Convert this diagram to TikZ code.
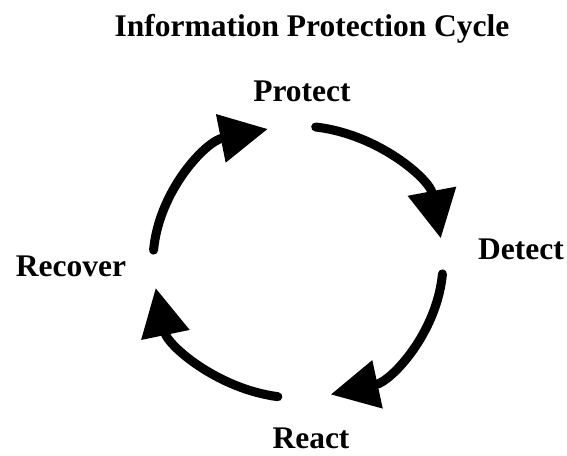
\documentclass[tikz,border=0pt]{standalone}
\usepackage{fontspec}
\setmainfont{Liberation Serif}
\usetikzlibrary{arrows.meta,calc}

\tikzset{
    stage/.style={font=\fontsize{31.5}{36}\selectfont\bfseries, anchor=base, inner sep=0pt},
    cyclearrow/.style={line width=9pt, line cap=round, -{Triangle[length=48pt,width=47pt]}}
}

\begin{document}
\begin{tikzpicture}[x=1pt,y=1pt]
    \useasboundingbox (0,0) rectangle (567,455);

    % Title
    \node[stage] (title) at (312,418) {Information Protection Cycle};

    % Stages
    \node[stage] (protect) at (302,353) {Protect};
    \node[stage] (detect) at (521,195) {Detect};
    \node[stage] (react) at (311,7) {React};
    \node[stage] (recover) at (71,178) {Recover};

    % Cycle arrows
    \coordinate (hub) at (298,193);
    \draw[cyclearrow] ($(hub)+(83:145 and 136)$) arc[start angle=83, end angle=10, x radius=145, y radius=136];
    \draw[cyclearrow] ($(hub)+(-5:145 and 136)$) arc[start angle=-5, end angle=-77, x radius=145, y radius=136];
    \draw[cyclearrow] ($(hub)+(-98:145 and 136)$) arc[start angle=-98, end angle=-169, x radius=145, y radius=136];
    \draw[cyclearrow] ($(hub)+(175:145 and 136)$) arc[start angle=175, end angle=102, x radius=145, y radius=136];
\end{tikzpicture}
\end{document}
